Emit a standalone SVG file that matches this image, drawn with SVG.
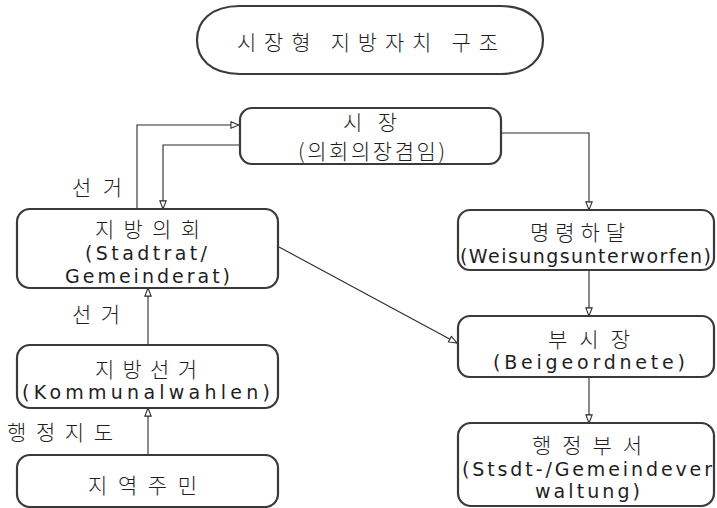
<svg xmlns="http://www.w3.org/2000/svg" width="717" height="508" viewBox="0 0 717 508">
  <style>
    .box { fill: #ffffff; stroke: #3a3a3a; stroke-width: 2.2; }
    .ko { font-family: "Noto Sans CJK KR", "Noto Sans", sans-serif; font-size: 21px; font-weight: 300; fill: #1e1e1e; }
    .la { font-family: "DejaVu Sans", "Liberation Sans", sans-serif; font-size: 19px; fill: #1e1e1e; }
    .wire { fill: none; stroke: #2a2a2a; stroke-width: 1.1; }
  </style>
  <defs>
    <marker id="tri" viewBox="0 0 10 10" refX="10" refY="5" markerWidth="9" markerHeight="9" markerUnits="userSpaceOnUse" orient="auto">
      <path d="M1,1.5 L10,5 L1,8.5 Z" fill="#ffffff" stroke="#2a2a2a" stroke-width="1.2"/>
    </marker>
  </defs>
  <rect width="717" height="508" fill="#ffffff"/>

  <!-- title -->
  <g id="title">
    <path class="box" d="M240,6 L500,6 C530,6 543,22 543,40 C543,58 530,74 500,74 L240,74 C210,74 197,58 197,40 C197,22 210,6 240,6 Z"/>
    <text class="ko" x="237" y="50" font-size="25" textLength="261">시장형 지방자치 구조</text>
  </g>

  <!-- connectors -->
  <g id="connectors">
    <polyline class="wire" points="137,209 137,125 239,125" marker-end="url(#tri)"/>
    <polyline class="wire" points="240,145 163,145 163,209" marker-end="url(#tri)"/>
    <polyline class="wire" points="501,133 589,133 589,210" marker-end="url(#tri)"/>
    <line class="wire" x1="589" y1="270" x2="589" y2="316" marker-end="url(#tri)"/>
    <line class="wire" x1="589" y1="377" x2="589" y2="423" marker-end="url(#tri)"/>
    <line class="wire" x1="279" y1="247" x2="457" y2="343" marker-end="url(#tri)"/>
    <line class="wire" x1="148" y1="345" x2="148" y2="288" marker-end="url(#tri)"/>
    <line class="wire" x1="148" y1="455" x2="148" y2="408" marker-end="url(#tri)"/>
  </g>

  <!-- connector labels -->
  <g id="labels">
    <text class="ko" x="72" y="195" textLength="50">선거</text>
    <text class="ko" x="72" y="322" textLength="48">선거</text>
    <text class="ko" x="7" y="440" textLength="106">행정지도</text>
  </g>

  <g id="mayor">
    <rect class="box" x="240" y="108" width="261" height="56" rx="12"/>
    <text class="ko" x="343" y="130" font-size="20" textLength="54">시장</text>
    <text class="ko" x="298" y="159" font-size="20" textLength="147">(의회의장겸임)</text>
  </g>

  <g id="council">
    <rect class="box" x="17" y="209" width="261" height="79" rx="13"/>
    <text class="ko" x="95" y="237" textLength="105">지방의회</text>
    <text class="la" x="85" y="260" textLength="122">(Stadtrat/</text>
    <text class="la" x="65" y="283" textLength="165">Gemeinderat)</text>
  </g>

  <g id="election">
    <rect class="box" x="17" y="345" width="261" height="63" rx="13"/>
    <text class="ko" x="95" y="377" textLength="102">지방선거</text>
    <text class="la" x="22" y="399" textLength="248">(Kommunalwahlen)</text>
  </g>

  <g id="residents">
    <rect class="box" x="17" y="455" width="261" height="52" rx="13"/>
    <text class="ko" x="88" y="493" textLength="109">지역주민</text>
  </g>

  <g id="directive">
    <rect class="box" x="458" y="210" width="256" height="60" rx="12"/>
    <text class="ko" x="530" y="240" textLength="95">명령하달</text>
    <text class="la" x="460" y="263" textLength="251">(Weisungsunterworfen)</text>
  </g>

  <g id="deputy">
    <rect class="box" x="458" y="316" width="256" height="61" rx="12"/>
    <text class="ko" x="548" y="347" textLength="82">부시장</text>
    <text class="la" x="493" y="369" textLength="192">(Beigeordnete)</text>
  </g>

  <g id="admin">
    <rect class="box" x="458" y="423" width="256" height="83" rx="13"/>
    <text class="ko" x="532" y="453" textLength="110">행정부서</text>
    <text class="la" x="462" y="476" font-size="18" textLength="250">(Stsdt-/Gemeindever</text>
    <text class="la" x="535" y="498" font-size="18" textLength="105">waltung)</text>
  </g>
</svg>
